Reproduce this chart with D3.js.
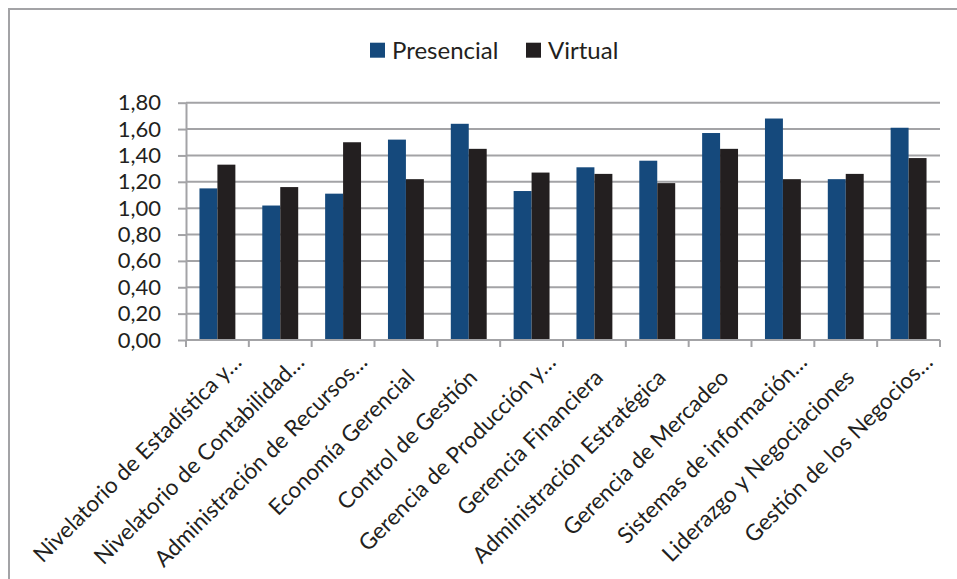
<!DOCTYPE html>
<html>
<head>
<meta charset="utf-8">
<script src="https://cdn.jsdelivr.net/npm/d3@7"></script>
<style>
  html, body { margin: 0; padding: 0; background: #fff; }
  svg { display: block; font-family: Lato, "Open Sans", sans-serif; }
</style>
</head>
<body>
<svg id="chart" width="957" height="579"></svg>
<script>
// Course names (x-axis)
const categories = [
  "Nivelatorio de Estadística y…",
  "Nivelatorio de Contabilidad…",
  "Administración de Recursos…",
  "Economía Gerencial",
  "Control de Gestión",
  "Gerencia de Producción y…",
  "Gerencia Financiera",
  "Administración Estratégica",
  "Gerencia de Mercadeo",
  "Sistemas de información…",
  "Liderazgo y Negociaciones",
  "Gestión de los Negocios…"
];

// Series values per course
const presencial = [1.15, 1.02, 1.11, 1.52, 1.64, 1.13, 1.31, 1.36, 1.57, 1.68, 1.22, 1.61];
const virtual    = [1.33, 1.16, 1.50, 1.22, 1.45, 1.27, 1.26, 1.19, 1.45, 1.22, 1.26, 1.38];

const seriesNames = ["Presencial", "Virtual"];
const yTicks = [0, 0.2, 0.4, 0.6, 0.8, 1.0, 1.2, 1.4, 1.6, 1.8];

const colors = { Presencial: "#15497c", Virtual: "#231f20" };
const gridColor = "#a3a3a6";
const textColor = "#231f20";

const svg = d3.select("#chart");

// Chart area frame
svg.append("rect")
  .attr("x", 9).attr("y", 9)
  .attr("width", 980).attr("height", 620)
  .attr("fill", "none")
  .attr("stroke", gridColor)
  .attr("stroke-width", 2);

const plot = { left: 186, right: 940, top: 102.7, bottom: 340 };

const x = d3.scaleBand()
  .domain(categories)
  .range([plot.left, plot.right])
  .paddingInner(0)
  .paddingOuter(0);

const inner = d3.scaleBand()
  .domain(seriesNames)
  .range([0, x.bandwidth()])
  .paddingInner(0)
  .paddingOuter(0.75);

const y = d3.scaleLinear().domain([0, 1.8]).range([plot.bottom, plot.top]);

const fmt = v => d3.format(".2f")(v).replace(".", ",");

// Horizontal gridlines
svg.append("g")
  .selectAll("line")
  .data(yTicks.filter(t => t > 0))
  .join("line")
  .attr("x1", plot.left).attr("x2", plot.right)
  .attr("y1", d => y(d)).attr("y2", d => y(d))
  .attr("stroke", gridColor)
  .attr("stroke-width", 2);

// Bars
const rows = categories.map((c, i) => ({ cat: c, Presencial: presencial[i], Virtual: virtual[i] }));
const groups = svg.append("g")
  .selectAll("g")
  .data(rows)
  .join("g")
  .attr("transform", d => `translate(${x(d.cat)},0)`);

groups.selectAll("rect")
  .data(d => seriesNames.map(s => ({ s, v: d[s] })))
  .join("rect")
  .attr("x", d => inner(d.s))
  .attr("width", inner.bandwidth())
  .attr("y", d => y(d.v))
  .attr("height", d => y(0) - y(d.v))
  .attr("fill", d => colors[d.s]);

// Y axis
const yAxis = svg.append("g")
  .attr("transform", `translate(${plot.left},0)`)
  .call(d3.axisLeft(y).tickValues(yTicks).tickFormat(fmt).tickSizeInner(8).tickSizeOuter(0).tickPadding(17));
yAxis.select(".domain").attr("stroke", gridColor).attr("stroke-width", 2);
yAxis.selectAll(".tick line").attr("stroke", gridColor).attr("stroke-width", 2);
yAxis.selectAll(".tick text")
  .attr("font-size", 22)
  .attr("fill", textColor)
  .attr("font-family", "Lato, sans-serif");

// X axis with ticks at category boundaries
const xAxisG = svg.append("g").attr("transform", `translate(0,${plot.bottom})`);
xAxisG.append("line")
  .attr("x1", plot.left).attr("x2", plot.right)
  .attr("stroke", gridColor).attr("stroke-width", 2);
const bounds = categories.map(c => x(c)).concat([plot.right]);
xAxisG.selectAll("line.tick")
  .data(bounds)
  .join("line")
  .attr("class", "tick")
  .attr("x1", d => d).attr("x2", d => d)
  .attr("y1", 0).attr("y2", 7)
  .attr("stroke", gridColor).attr("stroke-width", 2);

// Rotated category labels; truncated names run a little further along the text direction
xAxisG.selectAll("text")
  .data(categories)
  .join("text")
  .attr("transform", d => `translate(${x(d) + x.bandwidth() / 2 + 10},${39}) rotate(-45)`)
  .attr("x", d => d.endsWith("…") ? 22 : 0)
  .attr("text-anchor", "end")
  .attr("font-size", 22.5)
  .attr("fill", textColor)
  .text(d => d);

// Legend
const legend = svg.append("g").attr("transform", "translate(370,42.7)");
const legendItems = [
  { s: "Presencial", x: 0 },
  { s: "Virtual", x: 156 }
];
const li = legend.selectAll("g").data(legendItems).join("g")
  .attr("transform", d => `translate(${d.x},0)`);
li.append("rect").attr("width", 15).attr("height", 15).attr("fill", d => colors[d.s]);
li.append("text")
  .attr("x", 22).attr("y", 7.5).attr("dy", "0.36em")
  .attr("font-size", 24)
  .attr("fill", textColor)
  .text(d => d.s);
</script>
</body>
</html>
